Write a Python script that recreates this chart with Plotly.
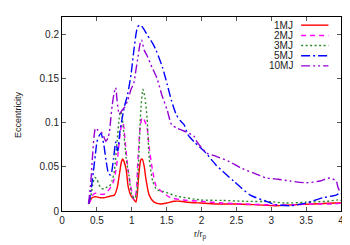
import plotly.graph_objects as go

names = ["1MJ", "2MJ", "3MJ", "5MJ", "10MJ"]

x_1mj = [0.38,0.40,0.43,0.46,0.50,0.55,0.60,0.65,0.70,0.75,0.79,0.82,0.85,0.87,0.89,0.92,0.95,0.99,1.03,1.06,1.08,1.10,1.13,1.15,1.18,1.20,1.25,1.32,1.42,1.50,1.61,1.70,1.79,1.99,2.2,2.5,2.8,3.07,3.3,3.6,3.9,4.0]
y_1mj = [0.008,0.011,0.015,0.016,0.016,0.015,0.015,0.016,0.017,0.018,0.026,0.040,0.055,0.059,0.056,0.047,0.027,0.017,0.013,0.010,0.020,0.040,0.058,0.059,0.050,0.038,0.018,0.010,0.008,0.009,0.011,0.011,0.010,0.009,0.008,0.008,0.007,0.006,0.007,0.008,0.009,0.009]

x_2mj = [0.38,0.41,0.44,0.47,0.50,0.55,0.60,0.65,0.70,0.74,0.77,0.80,0.83,0.86,0.88,0.91,0.95,0.99,1.03,1.06,1.09,1.12,1.15,1.18,1.22,1.25,1.30,1.35,1.40,1.46,1.56,1.74,1.99,2.3,2.6,3.0,3.3,3.6,3.9,4.0]
y_2mj = [0.008,0.012,0.018,0.020,0.020,0.019,0.019,0.022,0.027,0.034,0.045,0.062,0.085,0.100,0.098,0.075,0.045,0.026,0.013,0.020,0.060,0.095,0.106,0.103,0.094,0.072,0.045,0.028,0.024,0.020,0.015,0.0125,0.011,0.009,0.008,0.007,0.007,0.008,0.008,0.009]

x_3mj = [0.38,0.41,0.44,0.47,0.50,0.53,0.56,0.60,0.64,0.68,0.72,0.75,0.79,0.82,0.84,0.86,0.89,0.92,0.96,1.00,1.04,1.07,1.10,1.13,1.16,1.19,1.22,1.25,1.30,1.36,1.46,1.64,1.99,2.3,2.6,3.0,3.2,3.5,3.8,3.95,4.0]
y_3mj = [0.008,0.015,0.030,0.038,0.036,0.030,0.026,0.025,0.027,0.028,0.035,0.045,0.079,0.105,0.113,0.108,0.085,0.060,0.040,0.018,0.014,0.020,0.060,0.115,0.138,0.128,0.105,0.060,0.034,0.024,0.022,0.017,0.0125,0.012,0.011,0.0105,0.009,0.010,0.011,0.0125,0.012]

x_5mj = [0.38,0.40,0.42,0.45,0.48,0.50,0.53,0.56,0.60,0.63,0.67,0.70,0.74,0.77,0.80,0.83,0.86,0.89,0.94,0.99,1.03,1.06,1.08,1.11,1.15,1.22,1.30,1.35,1.44,1.51,1.57,1.64,1.70,1.75,1.81,1.90,2.06,2.21,2.46,2.70,2.93,3.07,3.27,3.50,3.74,3.93,4.0]
y_5mj = [0.008,0.015,0.026,0.045,0.065,0.078,0.085,0.088,0.075,0.058,0.042,0.041,0.060,0.078,0.068,0.090,0.104,0.117,0.132,0.155,0.182,0.200,0.208,0.211,0.209,0.200,0.190,0.182,0.163,0.143,0.125,0.109,0.102,0.098,0.086,0.078,0.066,0.052,0.034,0.018,0.011,0.007,0.006,0.009,0.015,0.018,0.021]

x_10mj = [0.38,0.41,0.44,0.46,0.48,0.51,0.55,0.58,0.61,0.63,0.66,0.68,0.70,0.72,0.75,0.77,0.79,0.82,0.85,0.87,0.90,0.94,0.99,1.03,1.06,1.09,1.12,1.14,1.18,1.22,1.29,1.36,1.43,1.51,1.57,1.65,1.74,1.89,1.93,2.07,2.21,2.40,2.56,2.75,2.93,3.10,3.27,3.50,3.70,3.84,3.93,3.96,4.0]
y_10mj = [0.008,0.030,0.065,0.085,0.094,0.092,0.090,0.088,0.082,0.079,0.083,0.090,0.105,0.120,0.135,0.140,0.125,0.110,0.113,0.115,0.118,0.125,0.138,0.145,0.160,0.175,0.190,0.194,0.182,0.176,0.163,0.151,0.132,0.114,0.098,0.094,0.091,0.085,0.079,0.066,0.062,0.056,0.049,0.043,0.0375,0.036,0.034,0.032,0.034,0.0375,0.034,0.026,0.020]

x_ticks = [0, 0.5, 1, 1.5, 2, 2.5, 3, 3.5, 4]
y_ticks = [0, 0.05, 0.1, 0.15, 0.2]

xs = [x_1mj, x_2mj, x_3mj, x_5mj, x_10mj]
ys = [y_1mj, y_2mj, y_3mj, y_5mj, y_10mj]
colors = ["#ff0000", "#ff00ff", "#2a8a2a", "#0000ff", "#9400d3"]
dashes = ["solid", "5px,4px", "2px,2.5px", "9px,3px,2px,3px", "9px,3px,2px,3px,2px,3px"]

fig = go.Figure()
for n, x, y, c, d in zip(names, xs, ys, colors, dashes):
    fig.add_trace(go.Scatter(x=x, y=y, mode="lines", name=n,
                             line=dict(color=c, width=1.4, dash=d, shape="spline", smoothing=0.6),
                             showlegend=False))

# manual gnuplot-style legend (text right-aligned, sample on the right)
row_y = [0.958, 0.905, 0.853, 0.800, 0.748]
for n, c, d, ry in zip(names, colors, dashes, row_y):
    fig.add_annotation(x=0.835, y=ry, xref="paper", yref="paper", text=n,
                       showarrow=False, xanchor="right", yanchor="middle",
                       font=dict(size=10, color="#222222"))
    fig.add_shape(type="line", xref="paper", yref="paper", x0=0.857, x1=0.955,
                  y0=ry, y1=ry, line=dict(color=c, width=1.4, dash=d))

# axis titles
fig.add_annotation(x=-0.158, y=0.5, xref="paper", yref="paper", text="Eccentricity",
                   textangle=-90, showarrow=False, xanchor="center", yanchor="middle",
                   font=dict(size=9, color="#222222"))
fig.add_annotation(x=0.498, y=-0.125, xref="paper", yref="paper", text="r/r<sub>p</sub>",
                   showarrow=False, xanchor="center", yanchor="middle",
                   font=dict(size=9, color="#222222"))

axis_common = dict(showline=True, linecolor="black", linewidth=1, mirror="allticks",
                   ticks="inside", ticklen=4, tickcolor="#555555", showgrid=False,
                   zeroline=False, automargin=False, tickfont=dict(size=10, color="#222222"))

fig.update_xaxes(range=[0, 4], tickvals=x_ticks, ticktext=[str(v) for v in x_ticks], **axis_common)
fig.update_yaxes(range=[0, 0.22], tickvals=y_ticks, ticktext=[str(v) for v in y_ticks], **axis_common)

fig.update_layout(width=350, height=245, margin=dict(l=54, r=17, t=9, b=42),
                  paper_bgcolor="white", plot_bgcolor="white",
                  font=dict(family="Liberation Sans, Arial, sans-serif"))

fig.write_html("out.html")
